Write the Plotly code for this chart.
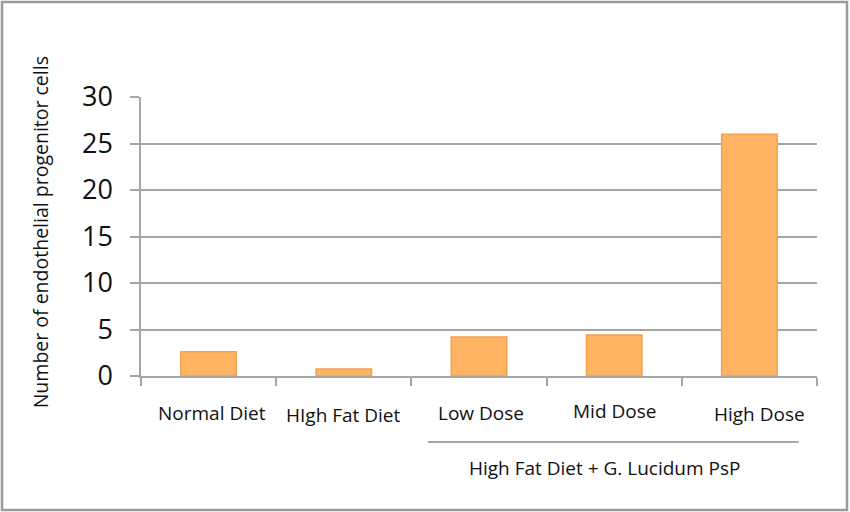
import plotly.graph_objects as go

categories = ["Normal Diet", "HIgh Fat Diet", "Low Dose", "Mid Dose", "High Dose"]
values = [2.6, 0.75, 4.2, 4.4, 26.0]
y_ticks = [0, 5, 10, 15, 20, 25, 30]
group_label = "High Fat Diet + G. Lucidum PsP"
y_title = "Number of endothelial progenitor cells"

FONT = "Open Sans, Noto Sans, sans-serif"
GRID = "#A6A6A6"

fig = go.Figure()
fig.add_trace(go.Bar(
    x=categories, y=values, width=0.41,
    marker=dict(color="#FFB463", line=dict(color="#F5A04B", width=1.5)),
))

# category labels, placed below the axis like the original
label_offsets = [-0.1326, -0.140, -0.1326, -0.126, -0.137]
label_shifts = [3, 0, 2, 0, 10]
for cat, off, sh in zip(categories, label_offsets, label_shifts):
    fig.add_annotation(x=cat, xref="x", y=off, yref="paper", text=cat,
                       showarrow=False, xanchor="center", yanchor="middle", xshift=sh,
                       font=dict(family=FONT, size=19, color="#111111"))

# group line and label
fig.add_shape(type="line", xref="paper", yref="paper", x0=0.4246, x1=0.973,
              y0=-0.2366, y1=-0.2366, line=dict(color=GRID, width=2))
fig.add_annotation(x=0.6855, xref="paper", y=-0.33, yref="paper", text=group_label,
                   showarrow=False, xanchor="center", yanchor="middle",
                   font=dict(family=FONT, size=19, color="#111111"))

# y-axis title
fig.add_annotation(x=-0.149, xref="paper", y=0.516, yref="paper", text=y_title,
                   textangle=-90, showarrow=False, xanchor="center", yanchor="middle",
                   font=dict(family=FONT, size=19.5, color="#111111"))

# outer frame
fig.add_shape(type="rect", xref="paper", yref="paper", x0=-0.2056, x1=1.0444,
              y0=-0.48, y1=1.3405, line=dict(color="#9A9A9A", width=2.5))

fig.update_layout(
    width=850, height=512,
    margin=dict(l=141, r=33, t=97, b=136),
    plot_bgcolor="white", paper_bgcolor="white",
    showlegend=False, bargap=0.59,
    font=dict(family=FONT),
)
fig.update_xaxes(
    showticklabels=False, tickson="boundaries", ticks="outside", ticklen=8,
    tickcolor=GRID, tickwidth=1.5, showline=True, linecolor=GRID, linewidth=1.5,
    showgrid=False, zeroline=False,
)
fig.update_yaxes(
    range=[0, 30], tickvals=y_ticks, ticks="outside", ticklen=9,
    tickcolor=GRID, tickwidth=1.5, showline=True, linecolor=GRID, linewidth=1.5,
    showgrid=True, gridcolor=GRID, gridwidth=1.5, zeroline=False,
    ticklabelstandoff=12,
    tickfont=dict(family=FONT, size=27, color="#111111"),
)

fig.write_html("out.html", config={"displayModeBar": False},
               post_script="document.body.style.margin='0';")
